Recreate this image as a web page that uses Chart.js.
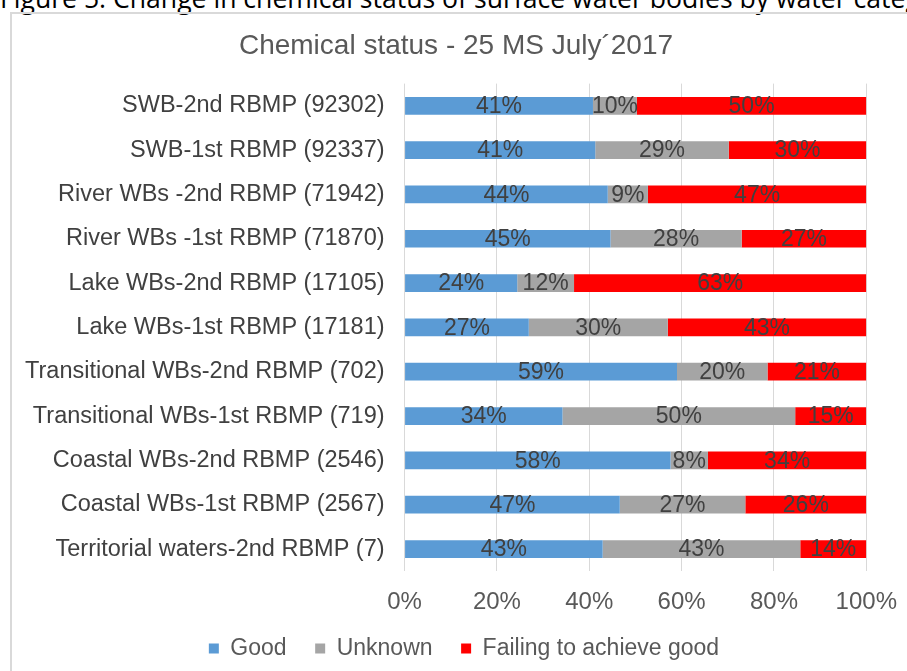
<!DOCTYPE html>
<html>
<head>
<meta charset="utf-8">
<script src="https://cdn.jsdelivr.net/npm/chart.js@4"></script>
<style>
  body { margin: 0; background: #fff; overflow: hidden; }
  #caption { position: absolute; left: 0; top: -20px; white-space: nowrap; font-family: "Open Sans", sans-serif; font-size: 26.6px; color: #000; }
  #frame { position: absolute; left: 10px; top: 12px; width: 1000px; height: 700px; border: 2px solid #d9d9d9; }
  #box { position: absolute; left: 12px; top: 14px; width: 895px; height: 657px; }
</style>
</head>
<body>
<div id="caption">Figure 5: Change in chemical status of surface water bodies by water category</div>
<div id="frame"></div>
<div id="box"><canvas id="myChart"></canvas></div>
<script>
const categories = [
  'SWB-2nd RBMP (92302)',
  'SWB-1st RBMP (92337)',
  'River WBs -2nd RBMP (71942)',
  'River WBs -1st RBMP (71870)',
  'Lake WBs-2nd RBMP (17105)',
  'Lake WBs-1st RBMP (17181)',
  'Transitional WBs-2nd RBMP (702)',
  'Transitional WBs-1st RBMP (719)',
  'Coastal WBs-2nd RBMP (2546)',
  'Coastal WBs-1st RBMP (2567)',
  'Territorial waters-2nd RBMP (7)'
];
const good    = [40.8, 41.3, 44.0, 44.6, 24.4, 26.9, 59.0, 34.2, 57.6, 46.6, 42.9];
const unknown = [ 9.5, 28.9,  8.7, 28.4, 12.3, 30.1, 19.6, 50.4,  8.1, 27.2, 42.8];
const failing = [49.7, 29.8, 47.3, 27.0, 63.3, 43.0, 21.4, 15.4, 34.3, 26.2, 14.3];
const xTicks = [0, 20, 40, 60, 80, 100];

const font = "'Liberation Sans', Arial, sans-serif";

// percentage labels in the middle of each segment
const barLabels = {
  id: 'barLabels',
  afterDatasetsDraw(chart) {
    const c = chart.ctx;
    c.save();
    c.font = '23px ' + font;
    c.fillStyle = '#404040';
    c.textAlign = 'center';
    c.textBaseline = 'middle';
    chart.data.datasets.forEach((ds, i) => {
      chart.getDatasetMeta(i).data.forEach((el, j) => {
        const x = (el.x + el.base) / 2;
        c.fillText(Math.round(ds.data[j]) + '%', x, el.y + 1);
      });
    });
    c.restore();
  }
};

// nudge the legend row a little to the right
const legendShift = {
  id: 'legendShift',
  afterLayout(chart) {
    chart.legend.left += 8;
    chart.legend.right += 8;
  }
};

const ctx = document.getElementById('myChart').getContext('2d');
new Chart(ctx, {
  type: 'bar',
  data: {
    labels: categories,
    datasets: [
      { label: 'Good', data: good, backgroundColor: '#5b9bd5' },
      { label: 'Unknown', data: unknown, backgroundColor: '#a5a5a5' },
      { label: 'Failing to achieve good', data: failing, backgroundColor: '#ff0000' }
    ]
  },
  options: {
    indexAxis: 'y',
    responsive: true,
    maintainAspectRatio: false,
    animation: false,
    datasets: { bar: { barPercentage: 0.4, categoryPercentage: 1 } },
    layout: { padding: { left: -7, right: 0, bottom: 1 } },
    plugins: {
      title: {
        display: true,
        text: 'Chemical status - 25 MS July\u00b42017',
        color: '#595959',
        font: { family: font, size: 28, weight: 'normal' },
        padding: { top: 15, bottom: 21 }
      },
      legend: {
        position: 'bottom',
        labels: {
          color: '#595959',
          font: { family: font, size: 23 },
          boxWidth: 10,
          boxHeight: 10,
          padding: 3,
          // wider gaps between items without growing the legend's height
          generateLabels: (chart) => {
            const items = Chart.defaults.plugins.legend.labels.generateLabels(chart);
            items.forEach((it, i) => { if (i < items.length - 1) it.text += '    '; });
            return items;
          }
        }
      },
      tooltip: { enabled: false }
    },
    scales: {
      x: {
        stacked: true,
        min: 0,
        max: 100,
        afterBuildTicks: (scale) => { scale.ticks = xTicks.map(v => ({ value: v })); },
        afterFit: (scale) => { scale.paddingRight -= 7; },
        ticks: { color: '#595959', font: { family: font, size: 24 }, padding: 17, callback: v => v + '%' },
        grid: { color: '#d9d9d9', drawTicks: false },
        border: { display: false }
      },
      y: {
        stacked: true,
        ticks: { color: '#404040', font: { family: font, size: 23.5 }, padding: 20 },
        grid: { display: false, drawTicks: false },
        border: { display: false }
      }
    }
  },
  plugins: [barLabels, legendShift]
});
</script>
</body>
</html>
